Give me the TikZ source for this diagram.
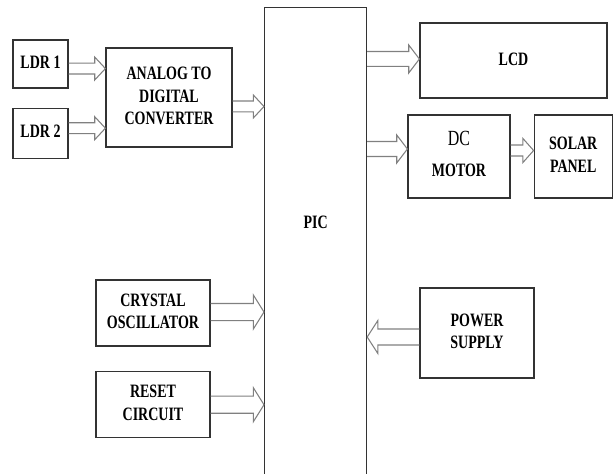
\documentclass[tikz,border=0pt]{standalone}
\usepackage{fontspec}
\setmainfont{Liberation Serif}
\usetikzlibrary{calc,positioning}

\newcommand{\boxtext}[1]{\scalebox{1}[1.35]{\begin{tabular}{@{}c@{}}#1\end{tabular}}}

\begin{document}
\begin{tikzpicture}[
    x=0.75pt, y=-0.75pt,
    unit/.style={draw=black!80, line width=0.9pt, fill=white, inner sep=0pt, font=\bfseries\fontsize{10.5}{12.6}\selectfont},
    bigarrow/.style 2 args={draw=black!50, line width=0.8pt, to path={
        let \p1=(\tikztostart), \p2=(\tikztotarget), \n1={(\x2>\x1)*2-1} in
        (\x1,{\y1+#1}) -- ({\x2-\n1*8pt},{\y1+#1}) -- ({\x2-\n1*8pt},{\y1+#2}) -- (\x2,\y1)
        -- ({\x2-\n1*8pt},{\y1-#2}) -- ({\x2-\n1*8pt},{\y1-#1}) -- (\x1,{\y1-#1})}}
  ]
  \clip (0,0) rectangle (613,474);

  % inputs
  \node[unit, minimum width=41.25pt, minimum height=36pt] (ldr1) at (40.5,64) {\boxtext{LDR 1}};
  \node[unit, minimum width=41.25pt, minimum height=37.5pt, below=14.25pt of ldr1] (ldr2) {\boxtext{LDR 2}};
  \node[unit, minimum width=94.5pt, minimum height=74.25pt] (adc) at (169,97.5) {\boxtext{ANALOG TO\\DIGITAL\\CONVERTER}};
  \node[unit, minimum width=85.5pt, minimum height=49.5pt] (osc) at (153,313) {\boxtext{CRYSTAL\\OSCILLATOR}};
  \node[unit, minimum width=85.5pt, minimum height=49.5pt, below=18pt of osc] (reset) {\boxtext{RESET\\CIRCUIT}};

  % controller
  \node[unit, anchor=north west, minimum width=76.5pt, text height=166pt, text depth=196pt] (pic) at (264,7) {\boxtext{PIC}};

  % outputs
  \node[unit, minimum width=140.25pt, minimum height=56.25pt] (lcd) at (513.5,60.5) {\boxtext{LCD}};
  \node[unit, minimum width=76.5pt, minimum height=62.25pt] (motor) at (459,156.5) {\boxtext{\makebox[0pt]{\mdseries\fontsize{12}{12.6}\selectfont DC}\hspace{22pt}\\[5pt]MOTOR}};
  \node[unit, minimum width=58.5pt, minimum height=62.25pt, right=17.25pt of motor] (solar) {\boxtext{SOLAR\\PANEL}};
  \node[unit, minimum width=85.5pt, minimum height=67.5pt] (power) at (477,333) {\boxtext{POWER\\SUPPLY}};

  % block arrows
  \draw[bigarrow={4.1pt}{8.6pt}] ([yshift=-3.4pt]ldr1.east) to (adc.west);
  \draw[bigarrow={4.1pt}{8.6pt}] ([yshift=3.75pt]ldr2.east) to (adc.west);
  \draw[bigarrow={4.1pt}{8.6pt}] ([yshift=-6.75pt]adc.east) to (pic.west);
  \draw[bigarrow={5.6pt}{10.5pt}] ($(pic.east|-lcd.west)+(0,-1.5)$) to (lcd.west);
  \draw[bigarrow={5.6pt}{10.5pt}] ($(pic.east|-motor.west)+(0,-7.5)$) to (motor.west);
  \draw[bigarrow={4.1pt}{9pt}] ([yshift=4.5pt]motor.east) to (solar.west);
  \draw[bigarrow={6.4pt}{12.75pt}] ([yshift=0.75pt]osc.east) to (pic.west);
  \draw[bigarrow={6.4pt}{12.75pt}] ([yshift=-0.4pt]reset.east) to (pic.west);
  \draw[bigarrow={6pt}{12.4pt}] ([yshift=-3pt]power.west) to (pic.east);
\end{tikzpicture}
\end{document}
